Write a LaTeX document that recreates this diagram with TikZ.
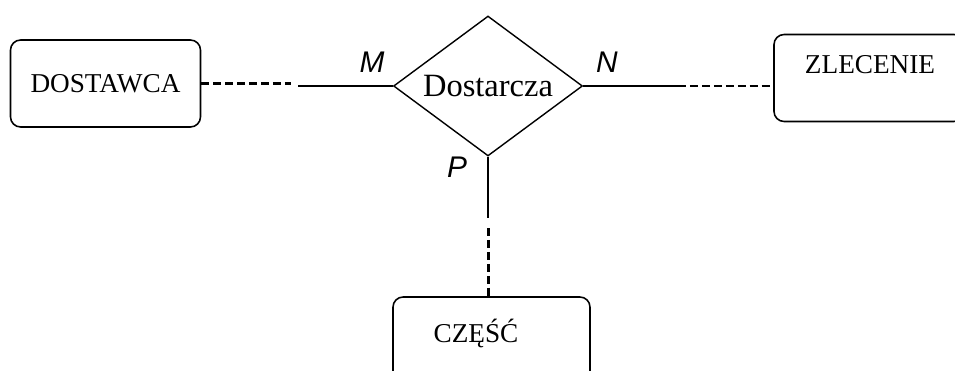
\documentclass[tikz,border=0pt]{standalone}
\usepackage{fontspec}
\setmainfont{Liberation Serif}
\newfontfamily\cardfont{Liberation Sans}
\usetikzlibrary{shapes.geometric}

\begin{document}
\begin{tikzpicture}[x=0.02cm,y=-0.02cm,
    entity/.style={draw,line width=0.9pt,rounded corners=0.2cm,minimum width=3.8cm,minimum height=1.74cm,inner sep=0pt},
    relation/.style={draw,diamond,line width=0.8pt,aspect=1.35,minimum width=3.78cm,minimum height=2.8cm,inner sep=0pt,font=\fontsize{18.5}{20}\selectfont},
    entity text/.style={font=\fontsize{15.5}{17}\selectfont},
    card/.style={font=\cardfont\itshape\fontsize{17}{19}\selectfont},
    weak/.style={line width=1.7pt,dash pattern=on 4.5pt off 2.3pt},
    link/.style={line width=0.9pt}]

    \useasboundingbox (0,0) rectangle (955,371);
    \clip (0,0) rectangle (955,371);

    % Entities
    \node[entity,entity text] (dostawca) at (105.5,83.5) {DOSTAWCA};
    \node[entity] (zlecenie) at (869,78) {};
    \node[entity text] (zlecenieTxt) at (870,65) {ZLECENIE};
    \node[entity,minimum width=3.94cm] (czesc) at (491.5,340.5) {};
    \node[entity text] (czescTxt) at (476,333) {CZĘŚĆ};

    % Relationship
    \node[relation] (dostarcza) at (488,86) {Dostarcza};

    % Links to DOSTAWCA
    \coordinate (lA) at (291,83.5);
    \coordinate (lB) at (298,86);
    \draw[weak] (dostawca.east) -- (lA);
    \draw[link] (lB) -- (dostarcza.west);

    % Links to ZLECENIE
    \coordinate (rA) at (678,86);
    \draw[link] (dostarcza.east) -- (rA);
    \draw[weak] (rA) -- (rA -| zlecenie.west);

    % Links to CZESC
    \coordinate (vA) at (488,218);
    \coordinate (vB) at (488,228);
    \draw[link] (dostarcza.south) -- (vA);
    \draw[weak] (vB) -- (vB |- czesc.north);

    % Cardinalities
    \node[card] (cardM) at (372,62) {M};
    \node[card] (cardN) at (607,62) {N};
    \node[card] (cardP) at (457,167) {P};
\end{tikzpicture}
\end{document}
